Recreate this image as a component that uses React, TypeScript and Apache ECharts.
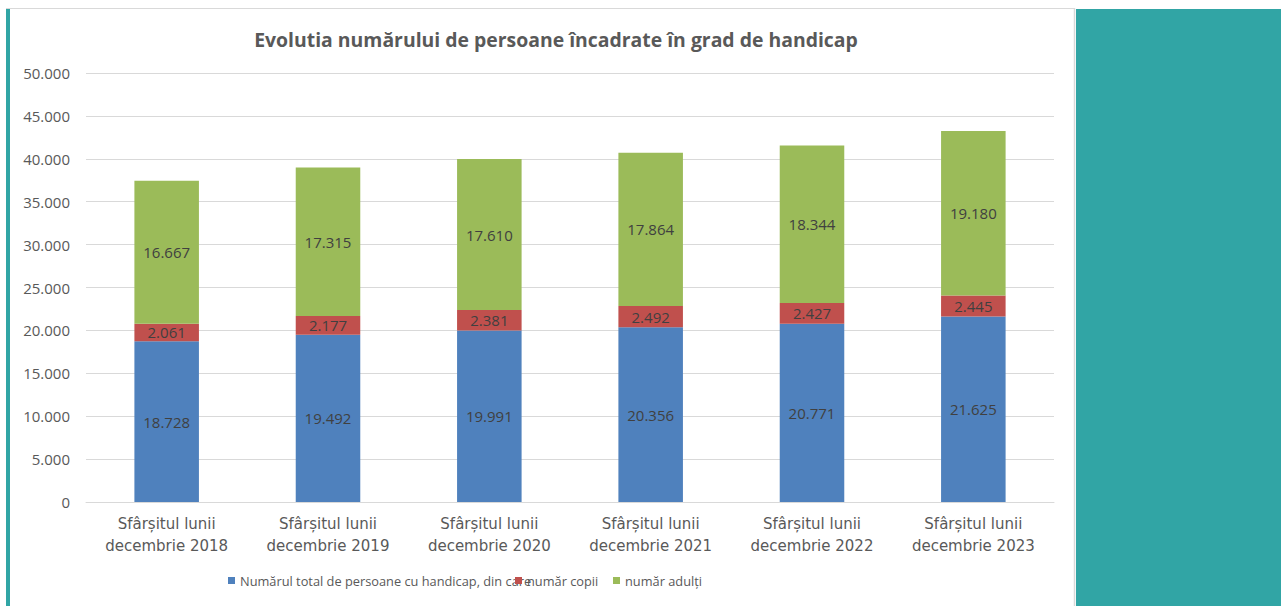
import React, { useEffect, useRef } from "react";
import * as echarts from "echarts";

const categories = [
  "Sfârșitul lunii\ndecembrie 2018",
  "Sfârșitul lunii\ndecembrie 2019",
  "Sfârșitul lunii\ndecembrie 2020",
  "Sfârșitul lunii\ndecembrie 2021",
  "Sfârșitul lunii\ndecembrie 2022",
  "Sfârșitul lunii\ndecembrie 2023",
];
const seriesNames = [
  "Numărul total de persoane cu handicap, din care",
  "număr copii",
  "număr adulți",
];
const totalValues = [18728, 19492, 19991, 20356, 20771, 21625];
const copiiValues = [2061, 2177, 2381, 2492, 2427, 2445];
const adultiValues = [16667, 17315, 17610, 17864, 18344, 19180];
const colors = ["#4F81BD", "#C0504D", "#9BBB59"];
const titleText = "Evolutia numărului de persoane încadrate în grad de handicap";

const fmt = (v: number) => String(v).replace(/\B(?=(\d{3})+(?!\d))/g, ".");
const FONT = "'Open Sans', 'Noto Sans', sans-serif";
const WIDE = "'DejaVu Sans', sans-serif";

export default function App() {
  const ref = useRef<HTMLDivElement>(null);
  useEffect(() => {
    if (!ref.current) return;
    const chart = echarts.init(ref.current, undefined, { renderer: "svg" });
    const dataSets = [totalValues, copiiValues, adultiValues];
    const legendLefts = [228, 515, 613];
    chart.setOption({
      animation: false,
      backgroundColor: "#ffffff",
      title: {
        text: titleText,
        left: 551,
        top: 25,
        textAlign: "center",
        textStyle: { fontFamily: FONT, fontSize: 19.4, fontWeight: "bold", color: "#595959" },
      },
      legend: seriesNames.map((n, i) => ({
        data: [n],
        left: legendLefts[i],
        top: 574,
        padding: 0,
        itemWidth: 7,
        itemHeight: 7,
        itemGap: 2,
        icon: "rect",
        textStyle: { fontFamily: FONT, fontSize: 12.8, color: "#595959" },
      })),
      grid: { left: 86, right: 233, top: 73, bottom: 104, containLabel: false },
      xAxis: {
        type: "category",
        data: categories,
        axisLine: { show: true, lineStyle: { color: "#D9D9D9" } },
        axisTick: { show: false },
        axisLabel: {
          fontFamily: WIDE,
          fontSize: 15,
          color: "#595959",
          lineHeight: 22,
          margin: 11,
          interval: 0,
        },
      },
      yAxis: {
        type: "value",
        min: 0,
        max: 50000,
        interval: 5000,
        axisLine: { show: false },
        axisTick: { show: false },
        splitLine: { lineStyle: { color: "#D9D9D9", width: 1 } },
        axisLabel: {
          fontFamily: FONT,
          fontSize: 15,
          color: "#595959",
          margin: 16,
          formatter: (v: number) => fmt(v),
        },
      },
      series: seriesNames.map((n, i) => ({
        name: n,
        type: "bar",
        stack: "total",
        data: dataSets[i],
        barWidth: "40%",
        itemStyle: { color: colors[i] },
        label: {
          show: true,
          position: "inside",
          fontFamily: FONT,
          fontSize: 15,
          color: "#404040",
          formatter: (p: any) => fmt(p.value),
        },
      })),
      graphic: [
        { type: "line", shape: { x1: 6, y1: 8.5, x2: 1075, y2: 8.5 }, style: { stroke: "#D9D9D9", lineWidth: 1 } },
        { type: "rect", shape: { x: 6, y: 9, width: 4, height: 597 }, style: { fill: "#31A5A5" } },
        { type: "line", shape: { x1: 1074.5, y1: 8, x2: 1074.5, y2: 606 }, style: { stroke: "#D9D9D9", lineWidth: 1.5 } },
        { type: "rect", shape: { x: 1076, y: 9, width: 205, height: 597 }, style: { fill: "#31A5A5" } },
      ],
    });
    return () => chart.dispose();
  }, []);
  return (
    <div
      ref={ref}
      style={{ position: "absolute", left: 0, top: 0, width: 1287, height: 606 }}
    />
  );
}
